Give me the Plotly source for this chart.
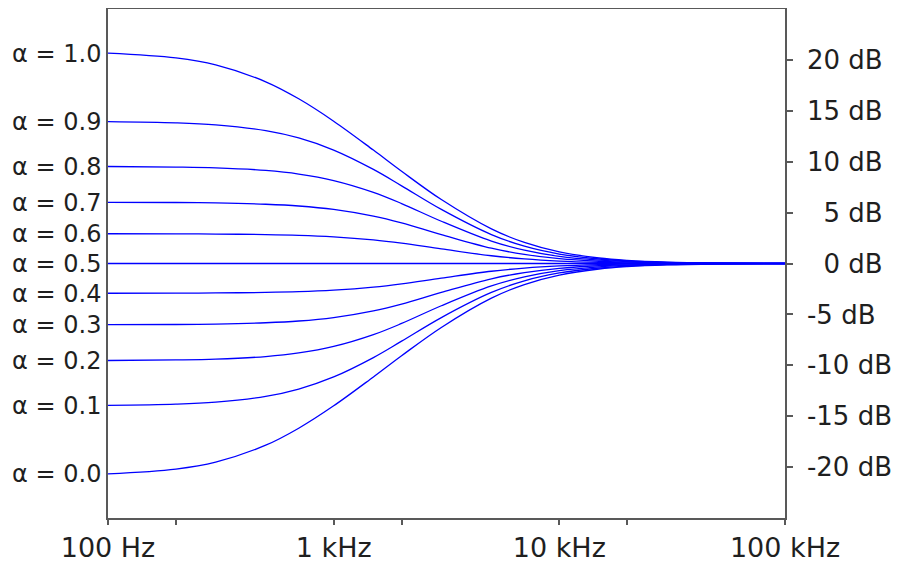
import plotly.graph_objects as go

# Frequencies (Hz) at which the curves were read
freqs = [100, 200, 300, 500, 700, 1000, 1500, 2000, 3000, 5000, 7000,
         10000, 15000, 20000, 30000, 50000, 100000]

# Gain (dB) for each alpha
a10 = [20.66, 20.19, 19.51, 17.85, 16.18, 13.98, 11.14, 9.06, 6.28, 3.40, 2.07, 1.14, 0.54, 0.31, 0.14, 0.05, 0.01]
a09 = [13.94, 13.82, 13.62, 13.05, 12.33, 11.14, 9.24, 7.63, 5.31, 2.84, 1.70, 0.93, 0.44, 0.25, 0.11, 0.04, 0.01]
a08 = [9.53, 9.47, 9.39, 9.14, 8.79, 8.15, 6.99, 5.89, 4.15, 2.20, 1.31, 0.70, 0.33, 0.19, 0.09, 0.03, 0.01]
a07 = [6.01, 5.99, 5.95, 5.82, 5.65, 5.31, 4.65, 3.98, 2.84, 1.50, 0.89, 0.47, 0.22, 0.13, 0.06, 0.02, 0.00]
a06 = [2.92, 2.91, 2.89, 2.84, 2.77, 2.62, 2.32, 2.00, 1.44, 0.76, 0.45, 0.24, 0.11, 0.06, 0.03, 0.01, 0.00]
a05 = [0.0, 0.0, 0.0, 0.0, 0.0, 0.0, 0.0, 0.0, 0.0, 0.0, 0.0, 0.0, 0.0, 0.0, 0.0, 0.0, 0.0]
a04 = [-2.92, -2.91, -2.89, -2.84, -2.77, -2.62, -2.32, -2.00, -1.44, -0.76, -0.45, -0.24, -0.11, -0.06, -0.03, -0.01, 0.00]
a03 = [-6.01, -5.99, -5.95, -5.82, -5.65, -5.31, -4.65, -3.98, -2.84, -1.50, -0.89, -0.47, -0.22, -0.13, -0.06, -0.02, 0.00]
a02 = [-9.53, -9.47, -9.39, -9.14, -8.79, -8.15, -6.99, -5.89, -4.15, -2.20, -1.31, -0.70, -0.33, -0.19, -0.09, -0.03, -0.01]
a01 = [-13.94, -13.82, -13.62, -13.05, -12.33, -11.14, -9.24, -7.63, -5.31, -2.84, -1.70, -0.93, -0.44, -0.25, -0.11, -0.04, -0.01]
a00 = [-20.66, -20.19, -19.51, -17.85, -16.18, -13.98, -11.14, -9.06, -6.28, -3.40, -2.07, -1.14, -0.54, -0.31, -0.14, -0.05, -0.01]

series = [a10, a09, a08, a07, a06, a05, a04, a03, a02, a01, a00]
alpha_labels = ["α = 1.0", "α = 0.9", "α = 0.8", "α = 0.7", "α = 0.6", "α = 0.5",
                "α = 0.4", "α = 0.3", "α = 0.2", "α = 0.1", "α = 0.0"]

x_tickvals = [100, 1000, 10000, 100000]
x_ticktext = ["100 Hz", "1 kHz", "10 kHz", "100 kHz"]
x_minor = [200, 2000, 20000]

y_tickvals = [20, 15, 10, 5, 0, -5, -10, -15, -20]
y_ticktext = ["20 dB", "15 dB", "10 dB", "\u20075 dB", "\u20070 dB",
              "-5 dB", "-10 dB", "-15 dB", "-20 dB"]

AXC = "#595959"
TXT = "#1f1f1f"
FONT = "DejaVu Sans"

fig = go.Figure()
for s in series:
    fig.add_trace(go.Scatter(x=freqs, y=s, mode="lines",
                             line=dict(color="#0000ff", width=1.3, shape="spline"),
                             hoverinfo="skip", showlegend=False))
# anchor trace for the left label axis
fig.add_trace(go.Scatter(x=[freqs[0]], y=[a05[0]], yaxis="y2", mode="markers",
                         marker=dict(opacity=0), hoverinfo="skip", showlegend=False))

# page body adds an 8 px margin, so the canvas is 8 px smaller
fig.update_layout(
    width=896, height=557,
    margin=dict(l=100, r=119, t=1, b=47, autoexpand=False),
    paper_bgcolor="white", plot_bgcolor="white",
    font=dict(family=FONT, color=TXT),
    showlegend=False,
    xaxis=dict(type="log", range=[2, 5], automargin=False,
               tickvals=x_tickvals, ticktext=x_ticktext,
               ticks="outside", ticklen=5, tickwidth=1.5, tickcolor=AXC,
               minor=dict(tickvals=x_minor, ticks="outside", ticklen=5,
                          tickwidth=1.5, tickcolor=AXC, showgrid=False),
               showline=True, linecolor=AXC, linewidth=1.5, mirror=True,
               showgrid=False, zeroline=False,
               tickfont=dict(size=27, family=FONT, color=TXT)),
    yaxis=dict(side="right", range=[-25, 25], automargin=False,
               tickvals=y_tickvals, ticktext=y_ticktext,
               ticks="outside", ticklen=6, tickwidth=1.5, tickcolor=AXC,
               ticklabelstandoff=9,
               showline=True, linecolor=AXC, linewidth=1.5,
               showgrid=False, zeroline=False,
               tickfont=dict(size=26, family=FONT, color=TXT)),
    yaxis2=dict(overlaying="y", side="left", range=[-25, 25], automargin=False,
                tickvals=[s[0] for s in series], ticktext=alpha_labels,
                ticks="", showline=True, linecolor=AXC, linewidth=1.5,
                showgrid=False, zeroline=False,
                tickfont=dict(size=24, family=FONT, color=TXT)),
)

fig.write_html("out.html")
